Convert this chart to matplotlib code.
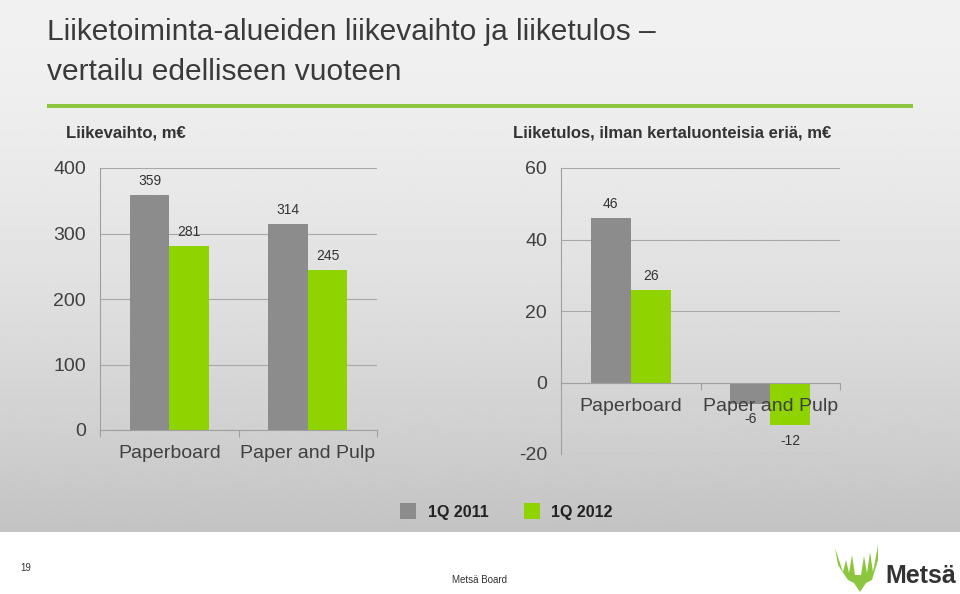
import matplotlib
matplotlib.use("Agg")
from matplotlib import pyplot
from matplotlib.patches import Polygon, Rectangle
import numpy as np

pyplot.rcParams['font.family'] = ['Liberation Sans', 'DejaVu Sans']
pyplot.rcParams['axes.unicode_minus'] = False

categories = ['Paperboard', 'Paper and Pulp']
series = ['1Q 2011', '1Q 2012']
sales = {'1Q 2011': [359, 314], '1Q 2012': [281, 245]}
result = {'1Q 2011': [46, -6], '1Q 2012': [26, -12]}
sales_ticks = [0, 100, 200, 300, 400]
result_ticks = [-20, 0, 20, 40, 60]

colors = {'1Q 2011': '#8c8c8c', '1Q 2012': '#8fd400'}
text_col = '#404040'

W, H = 960, 594
fig = pyplot.figure(figsize=(W / 100, H / 100), dpi=100)
fig.patch.set_facecolor('white')


def box(x0, y0, x1, y1):
    # pixel box (top-left origin) -> figure fraction rect
    return [x0 / W, 1 - y1 / H, (x1 - x0) / W, (y1 - y0) / H]


# slide background gradient
bg = fig.add_axes(box(0, 0, W, 532), zorder=-10)
g = np.linspace(0, 1, 256) ** 1.6
col = 0.945 - 0.18 * g
bg.imshow(np.repeat(col[:, None], 2, axis=1), cmap='gray', vmin=0, vmax=1,
          aspect='auto', extent=[0, 1, 0, 1], interpolation='bilinear')
bg.axis('off')

fig.text(47 / W, 1 - 40 / H, 'Liiketoiminta-alueiden liikevaihto ja liiketulos –',
         fontsize=21.5, color='#3a3a3a', va='baseline')
fig.text(47 / W, 1 - 80 / H, 'vertailu edelliseen vuoteen',
         fontsize=21.5, color='#3a3a3a', va='baseline')
fig.add_artist(Rectangle((47 / W, 1 - 108 / H), (913 - 47) / W, 4 / H,
                         transform=fig.transFigure, color='#8cc63f', lw=0))

fig.text(66 / W, 1 - 138 / H, 'Liikevaihto, m€', fontsize=12, fontweight='bold',
         color='#333333', va='baseline')
fig.text(513 / W, 1 - 138 / H, 'Liiketulos, ilman kertaluonteisia eriä, m€',
         fontsize=12, fontweight='bold', color='#333333', va='baseline')


def bar_panel(rect, data, ticks):
    ax = fig.add_axes(rect)
    ax.patch.set_alpha(0)
    x = np.arange(len(categories))
    w = 0.285
    for k, s in enumerate(series):
        pos = x + (k - 0.5) * w
        ax.bar(pos, data[s], w, color=colors[s], zorder=1, label=s)
        for p, v in zip(pos, data[s]):
            ax.annotate(str(v), (p, v), xytext=(0, 5 if v >= 0 else -6),
                        textcoords='offset points', ha='center',
                        va='bottom' if v >= 0 else 'top',
                        fontsize=10, color='#333333')
    for t in ticks:
        ax.axhline(t, color='#a8a8a8', lw=0.8, zorder=0)
    ax.set_xlim(-0.5, len(categories) - 0.5)
    ax.set_ylim(ticks[0], ticks[-1])
    ax.set_yticks(ticks)
    ax.set_xticks(x)
    ax.set_xticklabels(categories)
    ax.set_xticks(np.arange(len(categories) + 1) - 0.5, minor=True)
    ax.tick_params(axis='x', which='major', length=0, pad=11, labelsize=14,
                   labelcolor=text_col)
    ax.tick_params(axis='x', which='minor', length=5, color='#a0a0a0', width=0.8)
    ax.tick_params(axis='y', length=0, pad=10, labelsize=14, labelcolor=text_col)
    for sp in ['top', 'right']:
        ax.spines[sp].set_visible(False)
    ax.spines['left'].set_color('#a0a0a0')
    ax.spines['left'].set_linewidth(0.8)
    ax.spines['bottom'].set_color('#a0a0a0')
    ax.spines['bottom'].set_linewidth(0.8)
    ax.spines['bottom'].set_position(('data', 0))
    ax.set_axisbelow(False)
    return ax


bar_panel(box(100, 168, 377, 430), sales, sales_ticks)
bar_panel(box(561, 168, 840, 454), result, result_ticks)

# legend
for (xs, xt), s in zip([(400, 428), (524, 551)], series):
    fig.add_artist(Rectangle((xs / W, 1 - 519 / H), 16 / W, 16 / H,
                             transform=fig.transFigure, color=colors[s], lw=0))
    fig.text(xt / W, 1 - 512 / H, s, fontsize=11.5, fontweight='bold',
             color='#222222', va='center')

# footer
fig.text(20 / W, 1 - 568 / H, '19', fontsize=7, color='#333333', va='center')
fig.text(480 / W, 1 - 580 / H, 'Metsä Board', fontsize=7, color='#333333',
         va='center', ha='center')
logo = [(835, 548), (843, 572), (846, 560), (849, 573), (852, 555), (855, 575),
        (861, 575), (864, 556), (867, 573), (870, 552), (873, 572), (878, 545),
        (878, 560), (872, 580), (866, 583), (860, 592), (854, 583), (848, 580),
        (838, 565)]
fig.add_artist(Polygon([(px / W, 1 - py / H) for px, py in logo], closed=True,
                       transform=fig.transFigure, color='#8cc63f', lw=0))
fig.text(885 / W, 1 - 576 / H, 'Metsä', fontsize=18, fontweight='bold',
         color='#333333', va='center')

fig.savefig('out.png', dpi=100)
